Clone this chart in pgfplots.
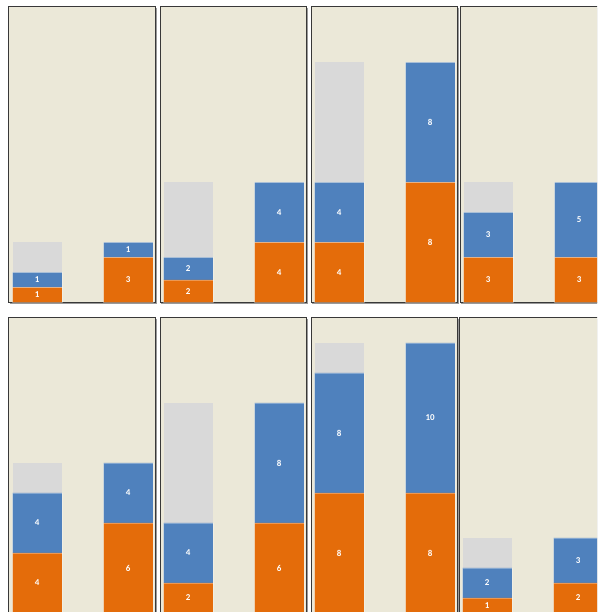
\documentclass[border=0pt]{standalone}
\usepackage{fontspec}
\setmainfont{Carlito}
\usepackage{pgfplots}
\usepackage{pgfplotstable}
\pgfplotsset{compat=1.18}
\usetikzlibrary{shadows}
\definecolor{bgc}{HTML}{EBE8D8}
\definecolor{orc}{HTML}{E46C0A}
\definecolor{blc}{HTML}{4F81BD}
\definecolor{grc}{HTML}{D9D9D9}
\definecolor{bord}{HTML}{383838}

\pgfplotstableread{
x o b g ol bl
0 1 1 2 1 1
1 3 1 0 3 1
}\tA
\pgfplotstableread{
x o b g ol bl
0 1.5 1.5 5 2 2
1 4 4 0 4 4
}\tB
\pgfplotstableread{
x o b g ol bl
0 4 4 8 4 4
1 8 8 0 8 8
}\tC
\pgfplotstableread{
x o b g ol bl
0 3 3 2 3 3
1 3 5 0 3 5
}\tD
\pgfplotstableread{
x o b g ol bl
0 4 4 2 4 4
1 6 4 0 6 4
}\tE
\pgfplotstableread{
x o b g ol bl
0 2 4 8 2 4
1 6 8 0 6 8
}\tF
\pgfplotstableread{
x o b g ol bl
0 8 8 2 8 8
1 8 10 0 8 10
}\tG
\pgfplotstableread{
x o b g ol bl
0 1 2 2 1 2
1 2 3 0 2 3
}\tH

\pgfplotsset{panel/.style={
  scale only axis, x=91pt, y=15pt,
  xmin=-0.31, xmax=1.30, ymin=0, ymax=19.7,
  anchor=south west, ybar stacked, bar width=0.54,
  xtick=\empty, ytick=\empty,
  axis line style={draw=bord, line width=1pt},
  axis background/.style={fill=bgc, drop shadow={shadow xshift=1.3pt, shadow yshift=-1.3pt, fill=black!40, opacity=1}},
  every node near coord/.append style={anchor=center, text=white, font=\fontsize{9}{10}\selectfont\bfseries},
}}

\newcommand\panel[3]{%
\begin{axis}[panel, at={(#1pt,#2pt)}]
\addplot[fill=orc, draw=white, draw opacity=0.3, line width=0.5pt, nodes near coords, point meta=explicit symbolic] table[x=x,y=o,meta=ol]{#3};
\addplot[fill=blc, draw=white, draw opacity=0.3, line width=0.5pt, nodes near coords, point meta=explicit symbolic] table[x=x,y=b,meta=bl]{#3};
\addplot[fill=grc, draw=none] table[x=x,y=g]{#3};
\end{axis}}

\begin{document}
\begin{tikzpicture}
\useasboundingbox (0,0) rectangle (597pt,612pt);
\clip (0,0) rectangle (597pt,612pt);
\fill[white] (0,0) rectangle (597pt,612pt);
\panel{9}{309.5}{\tA}
\panel{160}{309.5}{\tB}
\panel{311}{309.5}{\tC}
\panel{460}{309.5}{\tD}
\panel{9}{-1}{\tE}
\panel{160}{-1}{\tF}
\panel{311}{-1}{\tG}
\panel{459}{-1}{\tH}
\end{tikzpicture}
\end{document}
